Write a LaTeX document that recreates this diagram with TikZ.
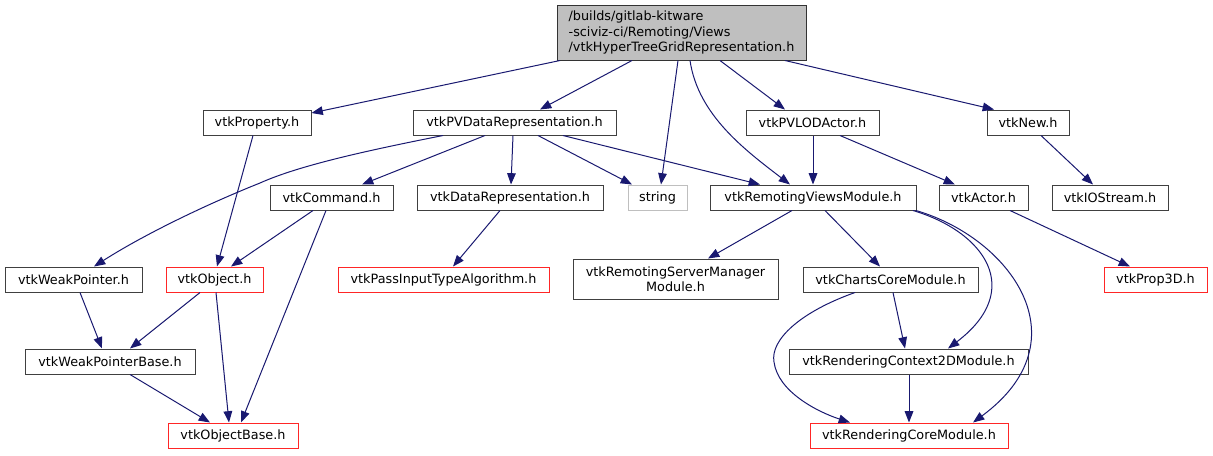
\documentclass[tikz,border=0pt]{standalone}
\usepackage{fontspec}
\setmainfont{DejaVu Sans}
\usepackage{xcolor}
\usetikzlibrary{arrows.meta}
\definecolor{edgeblue}{HTML}{191970}
\definecolor{rootgrey}{HTML}{BFBFBF}

\begin{document}
\begin{tikzpicture}[
    x=0.75pt, y=-0.75pt,
    font=\fontsize{9.6pt}{11.5pt}\selectfont,
    hd/.style={draw=black!75, fill=white, line width=0.75pt, inner sep=0pt,
        minimum height=18.75pt, align=center},
    wd/.style={minimum width=0.75*#1pt},
    trunc/.style={hd, draw=red!85!white},
    sys/.style={hd, draw=rootgrey},
    ar/.style={-{Triangle[length=8.5pt, width=6.5pt]}, draw=edgeblue, line width=0.75pt},
]
    \useasboundingbox (0,0) rectangle (1213,455);

    % ---------- root ----------
    \node[hd, fill=rootgrey, draw=black!80, wd=249, minimum height=41.25pt, align=left]
        (root) at (681.5,32.5) {/builds/gitlab-kitware\\-sciviz-ci/Remoting/Views\\/vtkHyperTreeGridRepresentation.h};

    % ---------- row 1 ----------
    \node[hd, wd=108] (prop)   at (257,122.5)  {vtkProperty.h};
    \node[hd, wd=203] (pvdata) at (514.5,122.5) {vtkPVDataRepresentation.h};
    \node[hd, wd=133] (lod)    at (812.5,122.5) {vtkPVLODActor.h};
    \node[hd, wd=82]  (new)    at (1028,122.5)  {vtkNew.h};

    % ---------- row 2 ----------
    \node[hd, wd=123]  (cmd)     at (331.5,197.5) {vtkCommand.h};
    \node[hd, wd=186]  (datarep) at (510,197.5)   {vtkDataRepresentation.h};
    \node[sys, wd=59]  (str)     at (657.5,197.5) {string};
    \node[hd, wd=206]  (rvm)     at (813,197.5)   {vtkRemotingViewsModule.h};
    \node[hd, wd=89]   (actor)   at (983.5,197.5) {vtkActor.h};
    \node[hd, wd=116]  (iostr)   at (1110,197.5)  {vtkIOStream.h};

    % ---------- row 3 ----------
    \node[hd, wd=137]    (weak)   at (73.5,279.5)  {vtkWeakPointer.h};
    \node[trunc, wd=97]  (obj)    at (214.5,279.5) {vtkObject.h};
    \node[trunc, wd=211] (pass)   at (443.5,279.5) {vtkPassInputTypeAlgorithm.h};
    \node[hd, wd=205, minimum height=30pt] (rsm) at (675.5,279) {vtkRemotingServerManager\\Module.h};
    \node[hd, wd=175]    (charts) at (890.5,279.5) {vtkChartsCoreModule.h};
    \node[trunc, wd=103] (prop3d) at (1155.5,279.5) {vtkProp3D.h};

    % ---------- row 4 ----------
    \node[hd, wd=170] (weakbase) at (110,361.5)   {vtkWeakPointerBase.h};
    \node[hd, wd=239] (ctx2d)    at (908.5,361.5) {vtkRenderingContext2DModule.h};

    % ---------- row 5 ----------
    \node[trunc, wd=130] (objbase) at (233,435.5) {vtkObjectBase.h};
    \node[trunc, wd=198] (rcore)   at (909,435.5) {vtkRenderingCoreModule.h};

    % ---------- edges from root ----------
    \draw[ar] (root.south -| 560,0) -- (prop.east |- 0,113);
    \draw[ar] (root.south -| 632,0) -- (pvdata.north -| 540,0);
    \draw[ar] (root.south -| 678,0) -- (str.north -| 661,0);
    \draw[ar] (root.south -| 690,0) .. controls (698,115) and (745,150) .. (rvm.north -| 790,0);
    \draw[ar] (root.south -| 720,0) -- (lod.north -| 785,0);
    \draw[ar] (root.south -| 785,0) -- (new.north -| 994,0);

    % ---------- row 1 -> lower ----------
    \draw[ar] (prop.south -| 253,0) -- (obj.north -| 217,0);
    \draw[ar] (pvdata.south -| 443,0) .. controls (370,150) and (300,165) .. (260,183)
        .. controls (200,207) and (140,237) .. (weak.north -| 94,0);
    \draw[ar] (pvdata.south -| 485,0) -- (cmd.north -| 362,0);
    \draw[ar] (pvdata.south -| 513,0) -- (datarep.north -| 511,0);
    \draw[ar] (pvdata.south -| 538,0) -- (str.north -| 632,0);
    \draw[ar] (pvdata.south -| 563,0) -- (rvm.north -| 760,0);
    \draw[ar] (lod.south -| 813,0) -- (rvm.north -| 813,0);
    \draw[ar] (lod.south -| 840,0) -- (actor.north -| 955,0);
    \draw[ar] (new.south -| 1041,0) -- (iostr.north -| 1093,0);

    % ---------- row 2 -> lower ----------
    \draw[ar] (cmd.south -| 313,0) -- (obj.north -| 231,0);
    \draw[ar] (cmd.south -| 326,0) -- (objbase.north -| 241,0);
    \draw[ar] (datarep.south -| 500,0) -- (pass.north -| 453,0);
    \draw[ar] (rvm.south -| 792,0) -- (rsm.north -| 708,0);
    \draw[ar] (rvm.south -| 825,0) -- (charts.north -| 880,0);
    \draw[ar] (rvm.south -| 913,0) .. controls (985,232) and (1025,290) .. (ctx2d.north -| 948,0);
    \draw[ar] (rvm.south -| 916,0) .. controls (1010,238) and (1085,340) .. (rcore.north -| 973,0);
    \draw[ar] (actor.south -| 1010,0) -- (prop3d.north -| 1130,0);

    % ---------- row 3 -> lower ----------
    \draw[ar] (weak.south -| 80,0) -- (weakbase.north -| 102,0);
    \draw[ar] (obj.south -| 200,0) -- (weakbase.north -| 130,0);
    \draw[ar] (obj.south -| 216,0) -- (objbase.north -| 229,0);
    \draw[ar] (charts.south -| 893,0) -- (ctx2d.north -| 905,0);
    \draw[ar] (charts.south -| 855,0) .. controls (800,312) and (770,340) .. (774,362)
        .. controls (778,392) and (818,412) .. (rcore.north -| 850,0);

    % ---------- row 4 -> lower ----------
    \draw[ar] (weakbase.south -| 130,0) -- (objbase.north -| 210,0);
    \draw[ar] (ctx2d.south -| 909,0) -- (rcore.north -| 909,0);
\end{tikzpicture}
\end{document}
